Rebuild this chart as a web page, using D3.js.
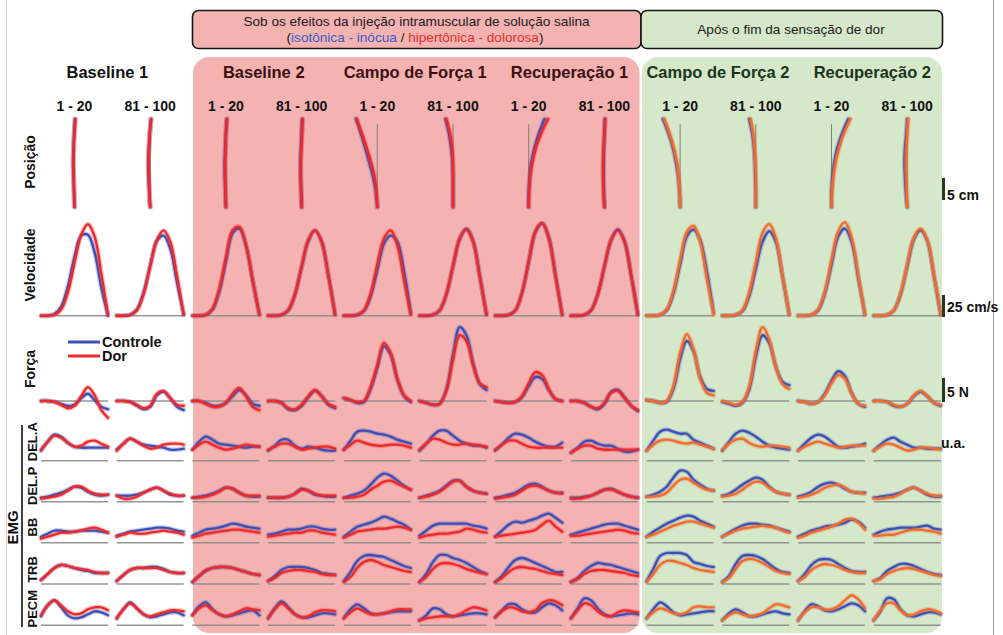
<!DOCTYPE html>
<html><head><meta charset="utf-8">
<script src="https://cdn.jsdelivr.net/npm/d3@7"></script>
<style>body{margin:0;background:#fff}svg text{font-family:"Liberation Sans",Arial,Helvetica,sans-serif}</style>
</head><body><svg id="c" width="1003" height="635"></svg>
<script>
// ---------------- DATA ----------------
const groups = ["Baseline 1","Baseline 2","Campo de Força 1","Recuperação 1","Campo de Força 2","Recuperação 2"];
const groupPhase = ["none","pain","pain","pain","after","after"];
const trialBlocks = ["1 - 20","81 - 100"];
const seriesNames = ["Controle","Dor"];
const mainRows = ["Posição","Velocidade","Força"];
const emgMuscles = ["DEL.A","DEL.P","BB","TRB","PECM"];
const timePts = [0,0.1,0.2,0.3,0.4,0.5,0.6,0.7,0.8,0.9,1];
const posLevels = [0,3.33,6.67,10,13.33,16.67,20]; // cm along movement
const scaleBarLabels = ["5 cm","25 cm/s","5 N","u.a."];

// Position: lateral deviation (cm) at each posLevel
const posCtrl = [
 [0,-0.1,-0.2,-0.3,-0.2,-0.1,0.1],[0,-0.2,-0.35,-0.4,-0.3,-0.1,0.2],[0,-0.1,-0.2,-0.25,-0.15,0,0.2],[0,-0.1,-0.2,-0.25,-0.15,0,0.1],
 [0,-0.3,-0.9,-1.8,-2.7,-3.7,-4.8],[0,0,0,-0.1,-0.4,-0.9,-1.7],[0,0,0.2,0.6,1.3,2.3,3.6],[0,-0.1,-0.2,-0.2,-0.1,0,0.1],
 [0,-0.1,-0.4,-0.9,-1.6,-2.6,-3.9],[0,0,-0.1,-0.2,-0.4,-0.8,-1.5],[0,0,0.2,0.6,1.3,2.4,3.8],[0,-0.3,-0.5,-0.6,-0.5,-0.2,0]];
const posPain = [
 [0,-0.1,-0.2,-0.3,-0.2,0,0.2],[0,-0.2,-0.3,-0.4,-0.3,-0.1,0.2],[0,-0.1,-0.2,-0.2,-0.1,0,0.25],[0,-0.1,-0.2,-0.2,-0.05,0.1,0.25],
 [0,-0.2,-0.6,-1.4,-2.4,-3.5,-4.7],[0,0,0,0,-0.2,-0.7,-1.5],[0,0.1,0.3,0.8,1.6,2.8,4.4],[0,-0.2,-0.3,-0.3,-0.2,0,0.2],
 [0,-0.1,-0.3,-0.7,-1.4,-2.4,-3.6],[0,0,0,-0.1,-0.3,-0.6,-1.2],[0,0.1,0.4,0.9,1.7,2.8,4.3],[0,-0.1,-0.2,-0.3,-0.2,0,0.2]];

// Velocity (cm/s)
const velCtrl = [
 [0,0,2,10,33,67,91,92,72,32,0],[0,0,1,7,26,57,85,91,76,38,1],[0,0,1,7,27,62,94,99,80,40,1],[0,0,1,6,24,55,85,97,84,46,1],
 [0,0,1,5,22,52,82,91,84,50,3],[0,0,1,6,24,56,87,99,85,45,1],[0,0,1,6,26,61,95,105,89,46,1],[0,0,1,6,24,56,86,98,85,46,1],
 [0,0,1,6,25,58,90,98,86,50,3],[0,0,1,5,22,53,84,96,84,44,1],[0,0,1,6,25,58,90,99,84,43,1],[0,0,1,6,24,56,87,97,85,45,1]];
const velPain = [
 [0,0,1,7,26,60,92,104,90,48,1],[0,0,1,6,24,56,86,97,84,45,1],[0,0,1,8,30,66,97,101,80,40,1],[0,0,1,6,24,56,86,97,84,45,1],
 [0,0,1,6,25,58,88,97,80,40,1],[0,0,1,6,24,57,88,98,84,44,1],[0,0,1,6,26,62,96,105,88,45,1],[0,0,1,6,24,56,86,97,84,45,1],
 [0,0,1,7,28,63,95,102,84,42,1],[0,0,1,6,26,61,94,104,88,45,1],[0,0,1,7,27,63,96,106,89,46,1],[0,0,1,6,25,58,89,99,86,46,1]];

// Force (N)
const forceCtrl = [
 [0,0,-0.2,-0.6,-1,-0.8,0.6,1.5,0.2,-1.2,-1.7],[0,0,-0.2,-1,-1.7,-1.2,1.2,1.9,0.6,-1.2,-1.9],[0,0,-0.4,-1,-1,-0.4,1,2.3,1.2,-0.6,-1],[0,0,-0.4,-1.7,-1.9,-1,0.8,2.1,1,-0.8,-1.5],
 [0.6,0.2,-0.4,-0.2,2.5,6.9,11.4,9.6,4.4,1,-0.2],[0,-0.4,-0.8,-0.6,2.3,9.6,15.4,13.7,7.9,3.5,2.3],[0,-0.2,-0.4,-0.2,0.8,3.1,5,4.6,2.3,0.4,0],[0,0,-0.4,-1.2,-1.7,-0.6,1.9,2.3,0.8,-1,-2.1],
 [0.2,0,-0.4,-0.2,2.5,8.7,12.5,10.4,5,2.5,2.1],[-0.2,-0.6,-1,-0.4,2.3,9.2,13.7,12.1,7.1,4,3.3],[0,-0.2,-0.6,-0.2,1.5,4.2,6.2,5.2,1.7,-0.6,-1.2],[0,0,-0.2,-1,-1.2,-0.6,1,1.9,1,-0.4,-1]];
const forcePain = [
 [0,0,-0.2,-0.8,-1.5,-1,1,2.9,1.2,-1.9,-3.5],[0,0,-0.2,-0.8,-1.5,-1,1.5,2.1,0.6,-0.8,-1],[0,0,-0.6,-1.2,-1.2,-0.4,1.5,2.7,1,-1.2,-1.9],[0,0,-0.4,-1.5,-1.7,-0.8,1,2.3,1,-0.6,-1.2],
 [0.6,0.2,-0.2,0,2.9,7.5,12.1,10,4.6,1.2,0],[0,-0.4,-0.8,-0.6,2.1,8.7,13.7,12.5,7.5,3.7,2.9],[0,-0.2,-0.4,-0.2,1,3.7,6,5.4,2.5,0.4,0],[0,0,-0.4,-1.2,-1.5,-0.4,1.7,2.1,0.6,-1,-1.9],
 [0.2,0,-0.4,0,3.1,10,13.9,10.8,4.6,1.7,1.2],[0,-0.4,-0.8,-0.2,2.9,10.4,15.4,12.9,7.1,3.5,2.5],[0,-0.2,-0.6,-0.2,1.2,3.7,5.4,4.6,1.5,-0.6,-1],[0,0,-0.2,-0.8,-1.2,-0.6,1.2,2.1,1,-0.4,-0.8]];

// EMG (u.a.)
const emgDELA_Ctrl = [
 [10,19,26,24,18,14,13,13,13,13,13],[11,17,22,19,16,15,14,13,11,11,12],[11,19,24,21,17,16,15,14,13,14,14],[10,15,21,21,15,12,14,13,11,10,10],
 [11,20,29,30,29,27,26,24,21,19,17],[10,17,25,30,30,25,20,17,15,15,13],[10,16,23,27,26,23,19,16,14,14,18],[8,13,19,20,17,15,15,12,9,9,11],
 [10,20,29,31,29,27,27,21,18,15,12],[10,19,27,30,28,24,19,15,13,12,11],[10,17,23,26,24,19,14,13,14,15,17],[10,16,21,23,19,16,13,13,12,12,12]];
const emgDELA_Pain = [
 [11,19,25,23,18,14,15,19,20,17,14],[10,17,22,19,15,12,13,16,17,17,16],[11,16,19,16,13,11,12,14,16,15,14],[11,14,17,17,14,11,12,13,14,14,12],
 [11,16,20,18,16,15,15,16,16,15,13],[11,17,22,21,18,16,16,17,16,15,14],[11,16,20,20,17,14,13,13,13,13,13],[8,12,15,15,12,11,11,11,11,11,11],
 [10,16,20,21,20,18,17,18,16,14,12],[11,17,21,22,18,15,14,15,15,14,13],[10,14,17,19,17,15,13,14,15,15,15],[10,14,17,16,13,10,11,13,13,12,11]];
const emgDELP_Ctrl = [
 [4,5,7,9,12,15,14,10,7,6,7],[6,6,6,7,9,12,14,11,7,6,6],[4,5,6,8,11,14,13,9,6,5,5],[4,4,4,5,8,13,11,7,6,5,5],
 [4,6,8,11,17,24,28,26,21,16,12],[4,6,8,11,16,21,21,15,11,9,8],[4,5,7,9,13,17,18,15,11,9,9],[4,4,5,6,9,12,13,10,7,5,4],
 [5,7,10,15,24,31,30,22,17,13,11],[6,8,12,17,21,24,22,15,10,8,7],[5,7,10,15,18,19,17,13,10,9,9],[4,5,6,7,9,12,14,11,7,5,5]];
const emgDELP_Pain = [
 [3,4,5,7,11,15,15,11,8,7,7],[6,3,3,5,9,12,14,11,8,6,6],[4,4,5,7,10,14,13,9,6,6,6],[4,4,4,5,8,12,11,8,6,6,6],
 [4,4,5,7,12,16,20,21,18,15,12],[4,5,7,10,15,20,21,15,11,9,8],[3,4,5,7,11,15,16,14,11,9,8],[3,3,4,6,9,12,12,10,7,5,4],
 [5,5,6,9,16,22,23,19,15,12,11],[5,6,8,12,17,20,19,14,10,8,7],[4,5,7,10,14,16,17,14,10,9,8],[3,3,4,5,8,12,14,11,8,6,6]];
const emgBB_Ctrl = [
 [6,9,12,12,11,11,12,12,12,11,10],[7,9,11,12,13,14,15,15,14,12,11],[7,10,13,14,15,17,19,18,16,15,14],[8,9,11,13,13,14,16,16,14,13,13],
 [6,11,16,18,20,23,26,24,21,18,13],[7,12,17,19,19,19,19,19,17,16,14],[6,12,18,21,20,22,24,27,29,25,20],[8,10,12,14,16,18,19,19,17,15,13],
 [6,11,15,19,22,25,27,26,22,19,16],[6,10,14,17,19,19,18,17,15,13,11],[6,9,12,14,16,17,18,20,23,21,15],[8,11,13,14,15,15,15,16,17,14,13]];
const emgBB_Pain = [
 [4,6,8,10,10,11,12,14,15,13,10],[6,8,10,9,9,10,11,12,11,10,8],[5,7,9,10,11,12,13,13,12,11,10],[6,7,8,9,10,10,12,12,10,9,8],
 [5,8,11,12,13,14,14,15,16,15,13],[5,7,8,9,9,10,11,14,13,11,10],[6,7,8,9,10,11,13,18,22,16,11],[7,7,8,9,10,11,12,13,12,10,9],
 [6,8,11,14,17,19,21,21,19,17,15],[6,9,12,14,15,16,17,16,15,12,10],[5,7,10,12,14,16,19,23,24,20,13],[7,7,8,8,10,12,13,13,12,11,9]];
const emgTRB_Ctrl = [
 [4,10,16,19,18,16,14,13,11,11,11],[3,9,14,16,16,17,17,15,12,11,11],[2,8,13,16,17,17,16,14,12,10,9],[3,8,14,17,17,17,16,14,11,10,9],
 [3,12,23,28,29,28,27,24,21,18,16],[2,10,22,29,29,26,24,21,17,13,10],[2,8,17,24,26,24,21,18,15,12,12],[2,6,13,18,21,20,19,17,15,13,11],
 [3,15,28,31,31,31,29,22,20,18,17],[2,8,20,28,29,28,25,20,15,12,11],[3,10,19,24,25,24,20,16,13,12,12],[3,6,13,17,20,20,18,15,12,10,9]];
const emgTRB_Pain = [
 [4,10,16,19,18,16,15,14,12,11,11],[3,9,14,16,16,16,16,14,12,11,11],[2,8,14,16,17,17,16,14,12,10,9],[3,6,11,13,14,14,13,12,10,9,9],
 [2,7,16,22,24,22,19,17,15,13,12],[2,7,15,20,21,20,18,15,13,11,10],[2,6,12,16,17,16,15,13,11,10,9],[2,5,10,13,14,14,13,12,11,9,8],
 [2,10,19,23,23,21,19,16,14,13,12],[2,6,15,23,25,24,21,17,13,11,10],[3,7,14,18,20,19,17,14,12,11,11],[3,5,10,13,15,16,15,13,11,9,8]];
const emgPECM_Ctrl = [
 [9,20,25,18,10,7,8,11,14,13,10],[7,16,23,17,11,8,9,11,13,13,10],[10,19,23,16,11,9,10,12,14,15,10],[7,17,24,18,11,8,8,10,12,12,11],
 [7,16,21,17,12,11,12,13,14,14,14],[5,10,17,16,11,9,10,11,12,12,11],[8,15,21,21,16,13,13,18,22,20,15],[7,17,27,25,17,11,9,10,11,12,11],
 [7,16,23,19,13,10,11,12,13,14,14],[5,12,16,13,9,9,11,13,14,12,11],[5,14,21,19,15,14,16,19,22,20,14],[5,14,27,26,16,10,9,11,13,13,11]];
const emgPECM_Pain = [
 [10,20,25,20,14,11,12,16,18,18,15],[7,16,22,17,11,9,11,13,15,15,14],[10,17,20,15,11,9,11,14,17,16,15],[7,16,22,17,11,8,9,13,15,15,14],
 [7,13,17,14,11,11,12,14,16,16,16],[5,7,8,9,9,9,11,15,18,17,15],[8,14,18,17,14,13,15,22,25,24,20],[7,15,22,20,14,10,9,13,15,14,13],
 [7,13,17,15,12,11,13,18,19,18,18],[5,10,13,11,9,10,12,17,21,20,18],[5,13,18,18,16,16,19,25,30,26,17],[5,15,22,22,15,10,11,14,16,15,12]];

const emgCtrl = [emgDELA_Ctrl, emgDELP_Ctrl, emgBB_Ctrl, emgTRB_Ctrl, emgPECM_Ctrl];
const emgPain = [emgDELA_Pain, emgDELP_Pain, emgBB_Pain, emgTRB_Pain, emgPECM_Pain];

// ---------------- DRAW ----------------
const svg = d3.select("#c");
const C = {blue:"#3c4fb6", red:"#ec2a2a", orange:"#f26a2c", pink:"#f4b2b1", green:"#d5e8c9", base:"#8a8a8a"};
const nCols = groups.length * trialBlocks.length;
const colX = d3.scaleBand().domain(d3.range(nCols)).range([41, 940.7]).paddingInner(0.115).paddingOuter(0);
const bw = colX.bandwidth();
const velY = d3.scaleLinear().domain([0, 25]).range([315.7, 293.7]);
const forceY = d3.scaleLinear().domain([0, 5]).range([401, 377]);
const posY = d3.scaleLinear().domain([0, 20]).range([207, 119]);
const posDX = d3.scaleLinear().domain([0, 5]).range([0, 22]);
const emgBase = [460.7, 501.7, 542.7, 584, 625.3];
const emgY = i => d3.scaleLinear().domain([0, 10]).range([emgBase[i], emgBase[i] - 10]);
const painColor = c => groupPhase[Math.floor(c / 2)] === "after" ? C.orange : C.red;
const line = d3.line().curve(d3.curveCatmullRom.alpha(0.5));

// page borders
svg.append("line").attr("x1",6.5).attr("x2",6.5).attr("y1",0).attr("y2",635).attr("stroke","#cfcfcf");
svg.append("line").attr("x1",993.5).attr("x2",993.5).attr("y1",0).attr("y2",635).attr("stroke","#9a9a9a");

// background regions
svg.append("rect").attr("x",193).attr("y",57).attr("width",446.5).attr("height",576).attr("rx",16).attr("fill",C.pink);
svg.append("rect").attr("x",642).attr("y",57).attr("width",300).attr("height",576).attr("rx",16).attr("fill",C.green);

// header boxes
svg.append("rect").attr("x",192.5).attr("y",10.5).attr("width",448.5).attr("height",38).attr("rx",6)
  .attr("fill",C.pink).attr("stroke","#151515").attr("stroke-width",1.6);
svg.append("rect").attr("x",641).attr("y",10.5).attr("width",301.5).attr("height",38).attr("rx",6)
  .attr("fill",C.green).attr("stroke","#151515").attr("stroke-width",1.6);
svg.append("text").attr("x",416.5).attr("y",26).attr("text-anchor","middle").attr("font-size",13.6).attr("fill","#1a1a1a")
  .text("Sob os efeitos da injeção intramuscular de solução salina");
const t2 = svg.append("text").attr("x",415).attr("y",42).attr("text-anchor","middle").attr("font-size",13.6).attr("fill","#1a1a1a");
t2.append("tspan").text("(");
t2.append("tspan").attr("fill","#3a5ccc").text("isotônica - inócua");
t2.append("tspan").text(" / ");
t2.append("tspan").attr("fill","#e8302a").text("hipertônica - dolorosa");
t2.append("tspan").text(")");
svg.append("text").attr("x",791).attr("y",34).attr("text-anchor","middle").attr("font-size",13.6).attr("fill","#1a1a1a")
  .text("Após o fim da sensação de dor");

// group titles & column labels
const titleShift = [-5,0,0,3,0,3];
groups.forEach((g, gi) => {
  const cx = colX(gi*2) + (colX.step() + bw) / 2 + titleShift[gi];
  const fill = groupPhase[gi] === "pain" ? "#3a1111" : groupPhase[gi] === "after" ? "#1b351b" : "#111";
  svg.append("text").attr("x",cx).attr("y",78).attr("text-anchor","middle").attr("font-size",16.5)
    .attr("font-weight","bold").attr("fill",fill).text(g);
  trialBlocks.forEach((b, bi) => {
    svg.append("text").attr("x",colX(gi*2+bi) + bw/2).attr("y",110.5).attr("text-anchor","middle")
      .attr("font-size",14).attr("font-weight","bold").attr("fill","#111").text(b);
  });
});

// row labels
const rowLabelPos = [[35,162],[35,265],[35,369]];
mainRows.forEach((r, i) => {
  svg.append("text").attr("transform",`translate(${rowLabelPos[i][0]},${rowLabelPos[i][1]}) rotate(-90)`)
    .attr("text-anchor","middle").attr("font-size",14).attr("font-weight","bold").attr("fill","#111").text(r);
});
const emgLabelY = [441.7, 485.8, 527, 569.5, 608.7];
emgMuscles.forEach((m, i) => {
  svg.append("text").attr("transform",`translate(37,${emgLabelY[i]}) rotate(-90)`)
    .attr("text-anchor","middle").attr("font-size",13).attr("font-weight","bold").attr("fill","#111").text(m);
});
svg.append("text").attr("transform","translate(18,527.5) rotate(-90)").attr("text-anchor","middle")
  .attr("font-size",15).attr("font-weight","bold").attr("fill","#111").text("EMG");
svg.append("line").attr("x1",22).attr("x2",22).attr("y1",425).attr("y2",627).attr("stroke","#111").attr("stroke-width",1.6);

// legend
[[C.blue,342],[C.red,356]].forEach(([col,y], i) => {
  svg.append("line").attr("x1",68).attr("x2",100).attr("y1",y).attr("y2",y).attr("stroke",col).attr("stroke-width",3);
  svg.append("text").attr("x",102).attr("y",y+5).attr("font-size",14.5).attr("font-weight","bold").attr("fill","#111").text(seriesNames[i]);
});

function drawCurve(pts, color, w) {
  svg.append("path").attr("d", line(pts)).attr("fill","none").attr("stroke",color).attr("stroke-opacity",0.28)
    .attr("stroke-width", w + 2.5).attr("stroke-linejoin","round").attr("stroke-linecap","round");
  svg.append("path").attr("d", line(pts)).attr("fill","none").attr("stroke",color)
    .attr("stroke-width", w).attr("stroke-linejoin","round").attr("stroke-linecap","round");
}
function hline(x0, x1, y) {
  svg.append("line").attr("x1",x0).attr("x2",x1).attr("y1",y).attr("y2",y).attr("stroke",C.base).attr("stroke-opacity",0.9).attr("stroke-width",1.5);
}

for (let c = 0; c < nCols; c++) {
  const x0 = colX(c);
  const tx = d3.scaleLinear().domain([0, 1]).range([x0, x0 + bw]);
  const cx = x0 + bw / 2;
  const pc = painColor(c);

  // Position
  svg.append("line").attr("x1",cx).attr("x2",cx).attr("y1",posY(18.8)).attr("y2",posY(0)).attr("stroke","#7d7d7d").attr("stroke-width",1);
  drawCurve(posLevels.map((l, i) => [cx + posDX(posCtrl[c][i]), posY(l)]), C.blue, 2.6);
  drawCurve(posLevels.map((l, i) => [cx + posDX(posPain[c][i]), posY(l)]), pc, 2.6);

  // Velocity
  hline(x0, x0 + bw, velY(0));
  drawCurve(timePts.map((t, i) => [tx(t), velY(velCtrl[c][i])]), C.blue, 2.4);
  drawCurve(timePts.map((t, i) => [tx(t), velY(velPain[c][i])]), pc, 2.4);

  // Force
  hline(x0, x0 + bw, forceY(0));
  drawCurve(timePts.map((t, i) => [tx(t), forceY(forceCtrl[c][i])]), C.blue, 2.4);
  drawCurve(timePts.map((t, i) => [tx(t), forceY(forcePain[c][i])]), pc, 2.4);

  // EMG
  emgMuscles.forEach((m, k) => {
    const ys = emgY(k);
    hline(x0, x0 + bw, ys(0));
    drawCurve(timePts.map((t, i) => [tx(t), ys(emgCtrl[k][c][i])]), C.blue, 2.3);
    drawCurve(timePts.map((t, i) => [tx(t), ys(emgPain[k][c][i])]), pc, 2.3);
  });
}

// scale bars
const barX = 943.5, barCol = "#1f3a1f";
function scaleBar(yBottom, h, label, ty) {
  svg.append("line").attr("x1",barX).attr("x2",barX).attr("y1",yBottom).attr("y2",yBottom - h).attr("stroke",barCol).attr("stroke-width",3);
  svg.append("text").attr("x",947).attr("y",ty).attr("font-size",14).attr("font-weight","bold").attr("fill","#111").text(label);
}
scaleBar(200, posY(0) - posY(5), scaleBarLabels[0], 200);
scaleBar(velY(0) + 1.3, velY(0) - velY(25), scaleBarLabels[1], 312);
scaleBar(forceY(0) + 1, forceY(0) - forceY(5), scaleBarLabels[2], 397);
svg.append("text").attr("x",941).attr("y",448).attr("font-size",14).attr("font-weight","bold").attr("fill","#111").text(scaleBarLabels[3]);
</script></body></html>
